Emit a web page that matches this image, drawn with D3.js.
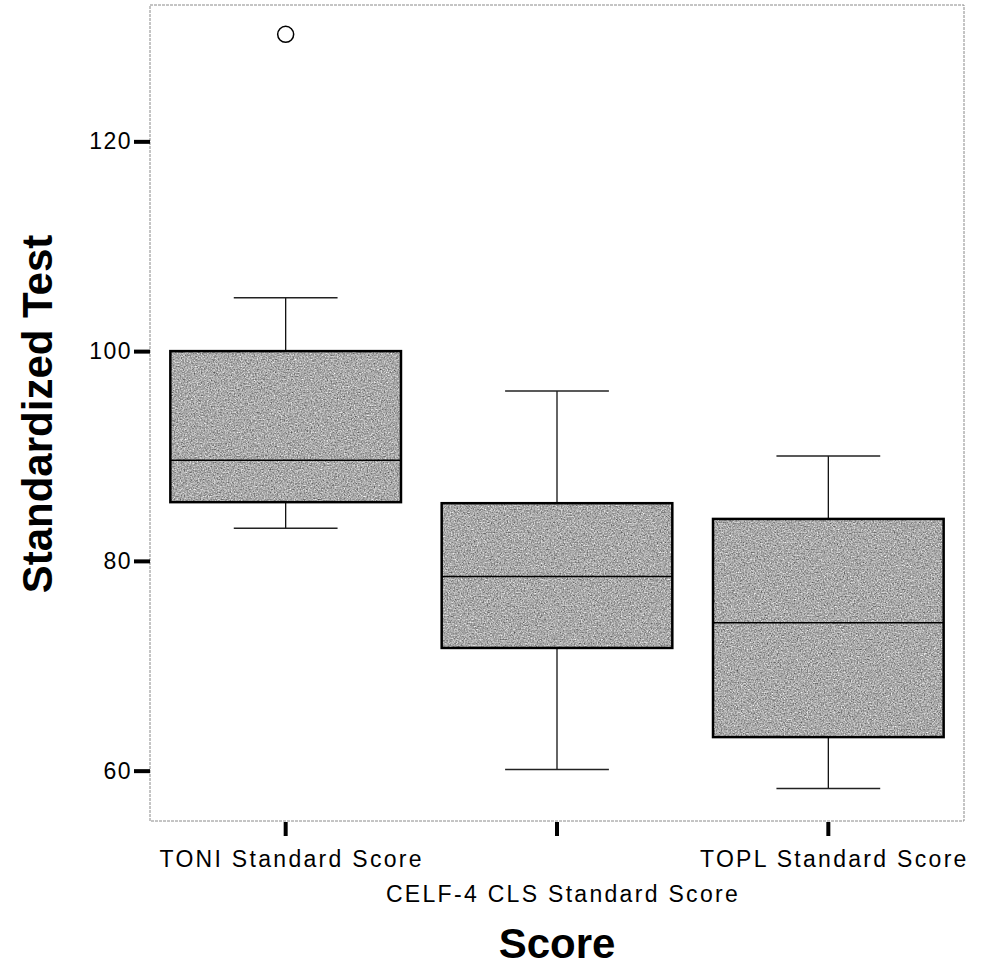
<!DOCTYPE html>
<html>
<head>
<meta charset="utf-8">
<script src="https://cdn.jsdelivr.net/npm/d3@7"></script>
<style>
  body { margin: 0; background: #fff; }
  svg { display: block; font-family: Arial, "Liberation Sans", sans-serif; }
</style>
</head>
<body>
<div id="chart"></div>
<script>
const categories = ["TONI Standard Score", "CELF-4 CLS Standard Score", "TOPL Standard Score"];
const whiskerLow = [83.1, 60.1, 58.3];
const q1 = [85.6, 71.7, 63.2];
const median = [89.6, 78.5, 74.1];
const q3 = [100.0, 85.5, 84.0];
const whiskerHigh = [105.1, 96.2, 90.0];
const outliers = [{ cat: "TONI Standard Score", value: 130.2 }];
const yTicks = [60, 80, 100, 120];

const data = categories.map((c, i) => ({
  cat: c, lo: whiskerLow[i], q1: q1[i], med: median[i], q3: q3[i], hi: whiskerHigh[i]
}));

const W = 985, H = 969;
const margin = { top: 5, right: 21, bottom: 148, left: 150 };
const width = W - margin.left - margin.right;
const height = H - margin.top - margin.bottom;

const svg = d3.select("#chart").append("svg")
  .attr("width", W).attr("height", H);

// grainy grey fill like the scanned original
const f = svg.append("defs").append("filter")
  .attr("id", "grain")
  .attr("color-interpolation-filters", "sRGB")
  .attr("x", 0).attr("y", 0).attr("width", 1).attr("height", 1);
f.append("feTurbulence")
  .attr("type", "fractalNoise").attr("baseFrequency", 0.7)
  .attr("numOctaves", 2).attr("seed", 4).attr("result", "noise");
f.append("feColorMatrix")
  .attr("in", "noise").attr("type", "matrix")
  .attr("values", "0.33 0.33 0.33 0 0  0.33 0.33 0.33 0 0  0.33 0.33 0.33 0 0  0 0 0 0 1")
  .attr("result", "grey");
const ct = f.append("feComponentTransfer").attr("in", "grey").attr("result", "tone");
["feFuncR", "feFuncG", "feFuncB"].forEach(fn =>
  ct.append(fn).attr("type", "linear").attr("slope", 1.3).attr("intercept", 0.02));
f.append("feComposite")
  .attr("in", "tone").attr("in2", "SourceGraphic").attr("operator", "in");

const g = svg.append("g")
  .attr("transform", `translate(${margin.left},${margin.top})`);

const x = d3.scaleBand()
  .domain(categories)
  .range([0, width])
  .paddingInner(0.15)
  .paddingOuter(0.075);

const y = d3.scaleLinear()
  .domain([55.2, 133.0])
  .range([height, 0]);

// frame
g.append("rect")
  .attr("x", 0).attr("y", 0)
  .attr("width", width).attr("height", height)
  .attr("fill", "none")
  .attr("stroke", "#8a8a8a")
  .attr("stroke-width", 1)
  .attr("stroke-dasharray", "3,1");

const capW = x.bandwidth() * 0.45;
const cx = d => x(d.cat) + x.bandwidth() / 2;

const box = g.selectAll(".box")
  .data(data)
  .join("g")
  .attr("class", "box");

// whiskers
box.append("line")
  .attr("x1", cx).attr("x2", cx)
  .attr("y1", d => y(d.hi)).attr("y2", d => y(d.q3))
  .attr("stroke", "#111").attr("stroke-width", 1.3);
box.append("line")
  .attr("x1", cx).attr("x2", cx)
  .attr("y1", d => y(d.q1)).attr("y2", d => y(d.lo))
  .attr("stroke", "#111").attr("stroke-width", 1.3);

// caps
box.append("line")
  .attr("x1", d => cx(d) - capW / 2).attr("x2", d => cx(d) + capW / 2)
  .attr("y1", d => y(d.hi)).attr("y2", d => y(d.hi))
  .attr("stroke", "#222").attr("stroke-width", 1.5);
box.append("line")
  .attr("x1", d => cx(d) - capW / 2).attr("x2", d => cx(d) + capW / 2)
  .attr("y1", d => y(d.lo)).attr("y2", d => y(d.lo))
  .attr("stroke", "#222").attr("stroke-width", 1.5);

// boxes: textured fill, then outline
box.append("rect")
  .attr("x", d => x(d.cat))
  .attr("y", d => y(d.q3))
  .attr("width", x.bandwidth())
  .attr("height", d => y(d.q1) - y(d.q3))
  .attr("fill", "#a9a9a9")
  .attr("filter", "url(#grain)");
box.append("rect")
  .attr("x", d => x(d.cat))
  .attr("y", d => y(d.q3))
  .attr("width", x.bandwidth())
  .attr("height", d => y(d.q1) - y(d.q3))
  .attr("fill", "none")
  .attr("stroke", "#000")
  .attr("stroke-width", 2.5);

// medians
box.append("line")
  .attr("x1", d => x(d.cat)).attr("x2", d => x(d.cat) + x.bandwidth())
  .attr("y1", d => y(d.med)).attr("y2", d => y(d.med))
  .attr("stroke", "#000").attr("stroke-width", 1.5);

// outliers
g.selectAll(".outlier")
  .data(outliers)
  .join("circle")
  .attr("class", "outlier")
  .attr("cx", d => x(d.cat) + x.bandwidth() / 2)
  .attr("cy", d => y(d.value))
  .attr("r", 8)
  .attr("fill", "none")
  .attr("stroke", "#000")
  .attr("stroke-width", 1.5);

// Y axis
g.append("g")
  .call(d3.axisLeft(y).tickValues(yTicks).tickSize(16).tickPadding(2))
  .call(a => a.select(".domain").remove())
  .call(a => a.selectAll("line").attr("stroke", "#000").attr("stroke-width", 4))
  .selectAll("text")
  .attr("fill", "#000")
  .attr("font-size", "23px")
  .attr("letter-spacing", "1.5px")
  .attr("font-family", "Arial, 'Liberation Sans', sans-serif");

// X axis
g.append("g")
  .attr("transform", `translate(0,${height})`)
  .call(d3.axisBottom(x).tickSize(15).tickPadding(0))
  .call(a => a.select(".domain").remove())
  .call(a => a.selectAll("line").attr("stroke", "#000").attr("stroke-width", 4).attr("y1", 1))
  .selectAll("text")
  .attr("fill", "#000")
  .attr("font-size", "23px")
  .attr("letter-spacing", "2.3px")
  .attr("font-family", "Arial, 'Liberation Sans', sans-serif")
  .attr("dx", 6)
  .attr("dy", 0)
  .attr("y", (d, i) => (i % 2 === 1 ? 81 : 46));

// axis titles
svg.append("text")
  .attr("transform", `translate(52,414) rotate(-90)`)
  .attr("text-anchor", "middle")
  .attr("font-size", "42px")
  .attr("font-weight", "bold")
  .attr("fill", "#000")
  .text("Standardized Test");

svg.append("text")
  .attr("x", margin.left + x("CELF-4 CLS Standard Score") + x.bandwidth() / 2)
  .attr("y", 958)
  .attr("text-anchor", "middle")
  .attr("font-size", "42px")
  .attr("font-weight", "bold")
  .attr("fill", "#000")
  .text("Score");
</script>
</body>
</html>
